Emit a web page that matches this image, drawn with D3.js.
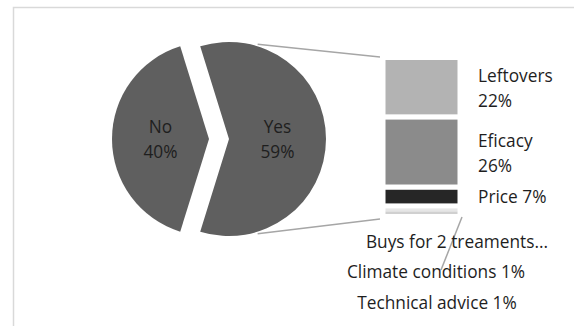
<!DOCTYPE html>
<html lang="en">
<head>
<meta charset="utf-8" />
<title>Bar of pie</title>
<style>
  body { margin: 0; padding: 0; background: #fff; }
  svg { display: block; }
  text { font-family: "Open Sans", sans-serif; font-size: 17.3px; fill: #1e1e1e; }
  .connector { stroke: #a6a6a6; stroke-width: 1.5; fill: none; }
</style>
</head>
<body>
<div id="chart"></div>
<script src="https://d3js.org/d3.v7.min.js"></script>
<script>
// pie part
const pieCats = ['No', 'Yes'];
const pieVals = [40, 59];
// bar part (breakdown of "Yes")
const barCats = ['Leftovers', 'Eficacy', 'Price', 'Buys for 2 treaments...', 'Climate conditions', 'Technical advice'];
const barVals = [22, 26, 7, 1, 1, 1];
const barColors = ['#b3b3b3', '#8b8b8b', '#262626', '#dcdcdc', '#e6e6e6', '#d0d0d0'];

const width = 574, height = 326;
const svg = d3.select('#chart').append('svg')
    .attr('width', width)
    .attr('height', height);

// chart area border (runs off the right/bottom edge)
svg.append('rect')
    .attr('x', 13.5).attr('y', 7.5)
    .attr('width', 600).attr('height', 340)
    .attr('fill', 'none')
    .attr('stroke', '#d9d9d9')
    .attr('stroke-width', 1.5);

// ---- pie ----
const cx = 219, cy = 139, r = 97, explode = 10;
const total = d3.sum(pieVals);
const yesAngle = pieVals[1] / total * 2 * Math.PI;
// "Yes" slice centred on the right side
const pie = d3.pie().sort(null)
    .startAngle(Math.PI / 2 - yesAngle / 2)
    .endAngle(Math.PI / 2 - yesAngle / 2 + 2 * Math.PI);
const order = [1, 0];
const arcs = pie(order.map(i => pieVals[i]))
    .map((a, k) => Object.assign(a, { cat: pieCats[order[k]] }));
const arc = d3.arc().innerRadius(0).outerRadius(r);
const labelArc = d3.arc().innerRadius(r * 0.5).outerRadius(r * 0.5);

const slices = svg.append('g').selectAll('g')
    .data(arcs)
    .enter().append('g')
    .attr('transform', d => {
      const mid = (d.startAngle + d.endAngle) / 2;
      return `translate(${cx + explode * Math.sin(mid)},${cy - explode * Math.cos(mid)})`;
    });

slices.append('path')
    .attr('d', arc)
    .attr('fill', '#5f5f5f');

slices.append('text')
    .attr('text-anchor', 'middle')
    .attr('transform', d => `translate(${labelArc.centroid(d)})`)
    .selectAll('tspan')
    .data(d => [d.cat, Math.round(d.value) + '%'])
    .enter().append('tspan')
    .attr('x', 0)
    .attr('y', (d, i) => i === 0 ? -6 : 19)
    .text(d => d);

// ---- bar ----
const barX = 383, barW = 77;
const y = d3.scaleLinear().domain([0, d3.sum(barVals)]).range([57.5, 214]);
const cum = d3.cumsum(barVals);
const segs = barVals.map((v, i) => ({ cat: barCats[i], v, y0: cum[i] - v, y1: cum[i], color: barColors[i] }));

// small segments first so the white gaps of the big ones sit on top
svg.append('g').selectAll('rect')
    .data(segs.slice().reverse())
    .enter().append('rect')
    .attr('x', d => d.v > 2 ? barX : barX + 2.5)
    .attr('width', d => d.v > 2 ? barW : barW - 5)
    .attr('y', d => y(d.y0))
    .attr('height', d => y(d.y1) - y(d.y0))
    .attr('fill', d => d.color)
    .attr('stroke', d => d.v > 2 ? '#fff' : 'none')
    .attr('stroke-width', 5);

// connector lines from the Yes slice to the bar
const yesArc = arcs.find(d => d.cat === 'Yes');
const yesMid = (yesArc.startAngle + yesArc.endAngle) / 2;
const ycx = cx + explode * Math.sin(yesMid), ycy = cy - explode * Math.cos(yesMid);
const topA = 0.3, botA = Math.PI - 0.3;
svg.append('line').attr('class', 'connector')
    .attr('x1', ycx + r * Math.sin(topA)).attr('y1', ycy - r * Math.cos(topA) - 2)
    .attr('x2', barX - 3).attr('y2', y(0) - 0.5);
svg.append('line').attr('class', 'connector')
    .attr('x1', ycx + r * Math.sin(botA)).attr('y1', ycy - r * Math.cos(botA) + 2)
    .attr('x2', barX - 3).attr('y2', y(d3.sum(barVals)) + 5);

// labels for the large segments, right of the bar
const big = segs.slice(0, 3);
big.forEach((d, i) => {
  const mid = (y(d.y0) + y(d.y1)) / 2;
  const t = svg.append('text').attr('x', 478);
  if (i < 2) {
    t.append('tspan').attr('x', 478).attr('y', mid - 5).text(d.cat);
    t.append('tspan').attr('x', 478).attr('y', mid + 20).text(d.v + '%');
  } else {
    t.attr('y', mid + 7).text(`${d.cat} ${d.v}%`);
  }
});

// small segments: labels below the bar
const small = segs.slice(3);
const smallX = [457, 436, 437];
const smallY = [248, 278, 309];
svg.append('line').attr('class', 'connector')
    .attr('x1', barX + barW + 2).attr('y1', y(d3.sum(barVals)) + 3)
    .attr('x2', 441).attr('y2', 270);
svg.append('g').selectAll('text')
    .data(small)
    .enter().append('text')
    .attr('text-anchor', 'middle')
    .attr('x', (d, i) => smallX[i])
    .attr('y', (d, i) => smallY[i])
    .text((d, i) => i === 0 ? d.cat : `${d.cat} ${d.v}%`);
</script>
</body>
</html>
